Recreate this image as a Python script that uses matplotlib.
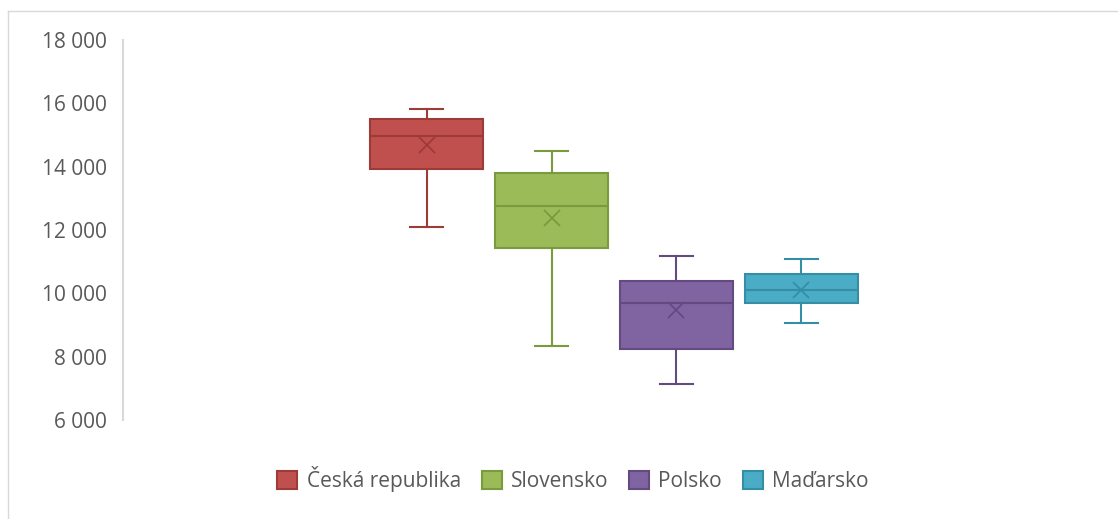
import matplotlib.pyplot as plt
from matplotlib.lines import Line2D
from matplotlib.patches import Patch
from matplotlib.ticker import FuncFormatter

# hodnoty
zeme = ["Česká republika", "Slovensko", "Polsko", "Maďarsko"]
minima = [12100, 8340, 7150, 9070]
q1 = [13940, 11420, 8240, 9690]
mediany = [14980, 12770, 9710, 10100]
q3 = [15500, 13790, 10380, 10600]
maxima = [15820, 14510, 11170, 11070]
prumery = [14670, 12390, 9460, 10110]

barvy = ["#C0504D", "#9BBB59", "#8064A2", "#4BACC6"]
okraje = ["#9C3B38", "#7A9A40", "#634B82", "#358EA6"]

plt.rcParams["font.family"] = ["Open Sans", "DejaVu Sans"]

fig = plt.figure(figsize=(11.18, 5.19), dpi=100)
ax = fig.add_axes([123 / 1118, 1 - 420 / 519, (1105 - 123) / 1118, (420 - 40) / 519])

stats = []
for i in range(len(zeme)):
    stats.append({
        "whislo": minima[i], "q1": q1[i], "med": mediany[i],
        "q3": q3[i], "whishi": maxima[i], "mean": prumery[i], "label": zeme[i],
    })

pozice = [-1.5, -0.5, 0.5, 1.5]
for i, s in enumerate(stats):
    ax.bxp(
        [s],
        positions=[pozice[i]],
        widths=0.91,
        patch_artist=True,
        showmeans=True,
        showfliers=False,
        boxprops={"facecolor": barvy[i], "edgecolor": okraje[i], "linewidth": 1.5},
        medianprops={"color": okraje[i], "linewidth": 1.5},
        whiskerprops={"color": okraje[i], "linewidth": 1.5},
        capprops={"color": okraje[i], "linewidth": 1.5},
        capwidths=0.27,
        meanprops={"marker": "x", "markeredgecolor": okraje[i], "markersize": 12,
                   "markeredgewidth": 1.3},
    )

ax.set_xlim(-3.93, 3.93)
ax.set_ylim(6000, 18000)
ax.set_yticks(range(6000, 18001, 2000))
ax.yaxis.set_major_formatter(FuncFormatter(lambda v, p: f"{int(v):,}".replace(",", " ")))
ax.set_xticks([])
ax.tick_params(axis="y", length=0, pad=11.5, labelsize=15, labelcolor="#595959")
for k in ["top", "right", "bottom"]:
    ax.spines[k].set_visible(False)
ax.spines["left"].set_color("#D9D9D9")
ax.spines["left"].set_linewidth(1.5)

# okraj grafu
fig.add_artist(Line2D([8 / 1118, 1], [1 - 11 / 519, 1 - 11 / 519], color="#D9D9D9", lw=1))
fig.add_artist(Line2D([8 / 1118, 8 / 1118], [0, 1 - 11 / 519], color="#D9D9D9", lw=1))

handles = [Patch(facecolor=barvy[i], edgecolor=okraje[i], linewidth=1.5) for i in range(4)]
fig.legend(
    handles, zeme, loc="center", bbox_to_anchor=(573 / 1118, 1 - 479 / 519),
    ncol=4, frameon=False, fontsize=15, handlelength=0.95, handleheight=0.95,
    handletextpad=0.45, columnspacing=1.0, labelcolor="#595959",
)

fig.savefig("out.png", dpi=100)
